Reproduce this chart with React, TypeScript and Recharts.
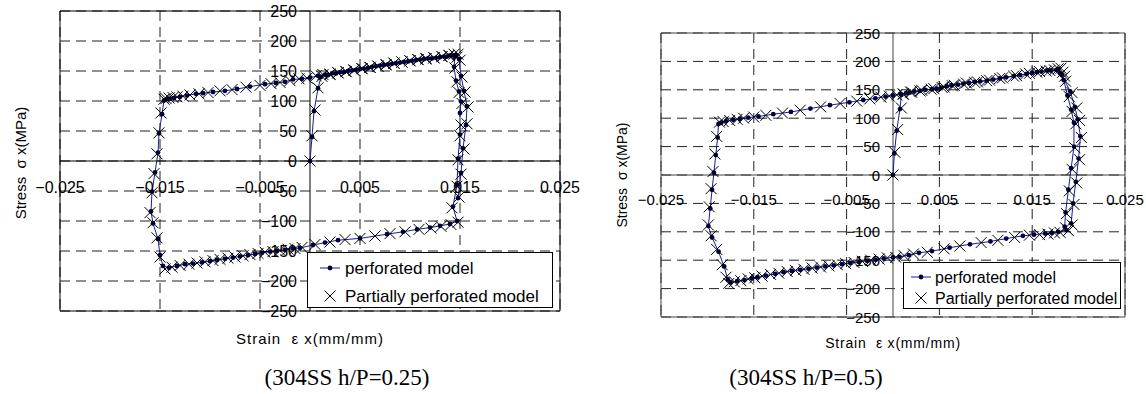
import { ScatterChart, Scatter, XAxis, YAxis, CartesianGrid, ReferenceLine, ReferenceArea, Legend } from 'recharts';

// tick values shared by both panels
const strainTicks = [-0.025, -0.015, -0.005, 0.005, 0.015, 0.025];
const stressTicks = [-250, -200, -150, -100, -50, 0, 50, 100, 150, 200, 250];
const seriesNames = ['perforated model', 'Partially perforated model'];
const captions = ['(304SS h/P=0.25)', '(304SS h/P=0.5)'];
const xTitle = 'Strain\u00a0\u00a0ε x(mm/mm)';
const yTitle = 'Stress\u00a0\u00a0σ x(MPa)';

// [strain, stress] pairs, in loading order — h/P = 0.25
const perforated025: [number, number][] = [
  [0, 0], [0.0002, 40], [0.0004, 83], [0.0008, 121], [0.0011, 140],
  [0.0018, 143], [0.0026, 146], [0.0034, 148], [0.0042, 151], [0.005, 153], [0.0058, 155], [0.0066, 158],
  [0.0074, 160], [0.0082, 162], [0.009, 164], [0.0098, 166], [0.0106, 168], [0.0114, 170], [0.0122, 171],
  [0.013, 173], [0.0137, 174], [0.0142, 176], [0.0145, 174],
  [0.0144, 157], [0.0146, 134], [0.0149, 116], [0.0151, 99], [0.015, 80], [0.015, 44], [0.0148, 4],
  [0.0147, -40], [0.0143, -76], [0.0147, -100],
  [0.014, -105], [0.013, -108], [0.012, -111], [0.0107, -114], [0.0093, -118], [0.0077, -122], [0.005, -129],
  [0.0028, -132], [0.0015, -136], [0.0003, -140], [-0.001, -145], [-0.0017, -146], [-0.0025, -148],
  [-0.0033, -150], [-0.004, -151], [-0.0048, -153], [-0.0055, -155], [-0.0062, -157], [-0.007, -159],
  [-0.0077, -161], [-0.0085, -163], [-0.0093, -165], [-0.01, -167], [-0.0108, -169], [-0.0117, -171],
  [-0.0125, -172], [-0.0133, -175], [-0.0141, -178], [-0.0147, -175],
  [-0.015, -157], [-0.0152, -130], [-0.0157, -104], [-0.0159, -84], [-0.0158, -51], [-0.0155, -19],
  [-0.0152, 14], [-0.0151, 46], [-0.0148, 78], [-0.0146, 101],
  [-0.0143, 103], [-0.014, 104], [-0.0136, 105], [-0.013, 107], [-0.0123, 109], [-0.0114, 112], [-0.0107, 113],
  [-0.0097, 115], [-0.0085, 117], [-0.0073, 120], [-0.006, 124], [-0.0045, 128], [-0.0034, 130], [-0.0025, 132],
  [-0.0017, 136], [-0.0008, 137], [0, 139],
  [0.0008, 142], [0.0015, 144], [0.0022, 146], [0.003, 148], [0.0038, 150], [0.0046, 152], [0.0054, 154],
  [0.0062, 157], [0.007, 159], [0.0078, 161], [0.0086, 163], [0.0094, 165], [0.0102, 167], [0.011, 169],
  [0.0118, 171], [0.0126, 172], [0.0134, 174], [0.014, 176], [0.0146, 177], [0.0149, 170],
  [0.0151, 142], [0.0154, 117], [0.0157, 91], [0.0156, 60], [0.0153, 21], [0.0151, -20], [0.0148, -62],
];

const partial025: [number, number][] = [
  [0, 0], [0.0002, 42], [0.0005, 85], [0.0008, 122], [0.0012, 141],
  [0.002, 144], [0.0028, 147], [0.0036, 149], [0.0044, 151], [0.0052, 154], [0.006, 156], [0.0068, 158],
  [0.0076, 160], [0.0084, 163], [0.0092, 165], [0.01, 167], [0.0108, 169], [0.0116, 170], [0.0124, 172],
  [0.0132, 174], [0.0139, 176], [0.0144, 178], [0.0147, 173],
  [0.0145, 155], [0.0147, 132], [0.0149, 114], [0.0152, 96], [0.0151, 60], [0.015, 42], [0.0148, 2],
  [0.0147, -42], [0.0142, -78], [0.0148, -102],
  [0.0141, -106], [0.0131, -109], [0.0121, -112], [0.0109, -114], [0.0095, -118], [0.008, -121], [0.0065, -125],
  [0.005, -129], [0.0035, -131], [0.002, -135], [0.0005, -139], [-0.0008, -144], [-0.0015, -146], [-0.0022, -147],
  [-0.003, -149], [-0.0037, -151], [-0.0045, -152], [-0.0052, -154], [-0.006, -156], [-0.0067, -158],
  [-0.0075, -160], [-0.0082, -162], [-0.009, -164], [-0.0097, -166], [-0.0105, -168], [-0.0113, -170],
  [-0.0121, -172], [-0.013, -174], [-0.0138, -177], [-0.0145, -180],
  [-0.015, -160], [-0.0153, -128], [-0.0157, -103], [-0.016, -86], [-0.0158, -53], [-0.0156, -21],
  [-0.0153, 12], [-0.0151, 47], [-0.0149, 80], [-0.0146, 103],
  [-0.0144, 104], [-0.0141, 105], [-0.0137, 106], [-0.0133, 107], [-0.0127, 108], [-0.012, 110], [-0.0111, 112],
  [-0.0102, 114], [-0.009, 117], [-0.0078, 119], [-0.0064, 123], [-0.005, 126], [-0.0039, 129], [-0.003, 131],
  [-0.002, 134], [-0.0011, 137], [-0.0003, 138],
  [0.0006, 142], [0.0013, 144], [0.002, 145], [0.0028, 147], [0.0036, 149], [0.0044, 152], [0.0052, 154],
  [0.006, 156], [0.0068, 158], [0.0076, 161], [0.0084, 163], [0.0092, 165], [0.01, 167], [0.0108, 169],
  [0.0116, 171], [0.0124, 172], [0.0132, 174], [0.0139, 176], [0.0148, 178], [0.015, 168],
  [0.0152, 140], [0.0155, 115], [0.0158, 90], [0.0157, 62], [0.0154, 20], [0.0151, -22], [0.0149, -60],
];

// h/P = 0.5
const perforated05: [number, number][] = [
  [0, 0], [0.00015, 38], [0.0004, 78], [0.00075, 116], [0.0009, 141],
  [0.0018, 145], [0.0029, 148], [0.0042, 151], [0.0052, 154], [0.0063, 158], [0.0076, 161], [0.0088, 164],
  [0.0101, 166], [0.0115, 170], [0.013, 174], [0.0144, 178], [0.0155, 181], [0.0166, 184], [0.0176, 185], [0.018, 179],
  [0.0184, 167], [0.0188, 140], [0.0192, 115], [0.0195, 92], [0.0195, 50], [0.0192, 12], [0.0189, -26],
  [0.0186, -66], [0.0185, -91], [0.0187, -97],
  [0.0178, -100], [0.0171, -102], [0.0164, -103], [0.0152, -105], [0.014, -107], [0.0122, -112], [0.0105, -117],
  [0.0083, -122], [0.0061, -128], [0.0042, -134], [0.0028, -137], [0.0017, -141], [0.0007, -144], [0, -145],
  [-0.001, -147], [-0.0019, -149], [-0.0028, -151], [-0.0037, -153], [-0.0046, -155], [-0.0055, -157],
  [-0.0064, -159], [-0.0073, -161], [-0.0082, -163], [-0.0091, -165], [-0.01, -167], [-0.0109, -169],
  [-0.0118, -171], [-0.0127, -174], [-0.0137, -177], [-0.0146, -180], [-0.0152, -182], [-0.016, -185],
  [-0.0168, -187], [-0.0175, -189],
  [-0.0178, -184], [-0.0182, -161], [-0.0188, -135], [-0.0195, -110], [-0.0199, -90], [-0.0197, -59],
  [-0.0195, -26], [-0.0193, 4], [-0.0191, 35], [-0.0189, 66], [-0.0188, 90],
  [-0.0185, 92], [-0.018, 95], [-0.0172, 97], [-0.0165, 99], [-0.0156, 101], [-0.0145, 103], [-0.0129, 107],
  [-0.011, 111], [-0.0089, 117], [-0.0068, 123], [-0.0047, 128], [-0.0032, 132], [-0.0019, 135], [-0.0008, 138], [0, 140],
  [0.0008, 143], [0.0014, 144], [0.0023, 147], [0.0035, 150], [0.0047, 152], [0.0058, 156], [0.007, 159],
  [0.0082, 162], [0.0094, 165], [0.0108, 168], [0.0122, 172], [0.0137, 176], [0.015, 180], [0.016, 182],
  [0.017, 184], [0.0178, 186], [0.0182, 176],
  [0.0191, 147], [0.0196, 120], [0.0199, 98], [0.0202, 68], [0.02, 29], [0.0197, -12], [0.0194, -50], [0.0192, -85],
];

const partial05: [number, number][] = [
  [0, 0], [0.0002, 40], [0.0005, 80], [0.0009, 118], [0.0011, 142],
  [0.002, 146], [0.0031, 149], [0.0044, 152], [0.0055, 155], [0.0066, 158], [0.0079, 162], [0.0091, 164],
  [0.0104, 167], [0.0118, 171], [0.0133, 175], [0.0147, 179], [0.0158, 182], [0.0169, 184], [0.0178, 187], [0.0183, 181],
  [0.0186, 165], [0.019, 138], [0.0193, 112], [0.0197, 90], [0.0196, 48], [0.0193, 10], [0.019, -28],
  [0.0187, -68], [0.0186, -93], [0.0189, -98],
  [0.018, -101], [0.0174, -102], [0.0167, -104], [0.0158, -105], [0.0147, -106], [0.0131, -110], [0.0113, -115],
  [0.0095, -119], [0.0072, -125], [0.0055, -130], [0.0037, -136], [0.0022, -139], [0.0012, -142], [0.0003, -145],
  [-0.0006, -146], [-0.0015, -148], [-0.0024, -150], [-0.0033, -152], [-0.0042, -154], [-0.0051, -156],
  [-0.006, -158], [-0.0069, -160], [-0.0078, -162], [-0.0087, -164], [-0.0096, -166], [-0.0105, -168],
  [-0.0114, -170], [-0.0123, -173], [-0.0132, -175], [-0.0141, -178], [-0.0149, -181], [-0.0156, -183],
  [-0.0164, -186], [-0.0171, -188], [-0.0177, -191],
  [-0.018, -180], [-0.0184, -158], [-0.019, -131], [-0.0196, -107], [-0.0199, -88], [-0.0198, -56],
  [-0.0196, -24], [-0.0194, 6], [-0.0192, 37], [-0.019, 68], [-0.0187, 93],
  [-0.0183, 94], [-0.0176, 96], [-0.0168, 98], [-0.0161, 100], [-0.015, 102], [-0.0137, 105], [-0.0119, 109],
  [-0.01, 114], [-0.0078, 120], [-0.0057, 126], [-0.0039, 130], [-0.0025, 134], [-0.0013, 137], [-0.0004, 139],
  [0.0004, 141], [0.0011, 143], [0.0019, 146], [0.0029, 148], [0.0041, 151], [0.0053, 154], [0.0064, 157],
  [0.0076, 160], [0.0088, 163], [0.0101, 166], [0.0115, 170], [0.013, 174], [0.0143, 178], [0.0155, 181],
  [0.0165, 183], [0.0174, 185], [0.0181, 188], [0.0185, 174],
  [0.0193, 145], [0.0198, 118], [0.0201, 96], [0.0203, 66], [0.0201, 27], [0.0198, -14], [0.0195, -52], [0.0193, -88],
];

const toPoints = (rows: [number, number][]) => rows.map(([strain, stress]) => ({ strain, stress }));
const fmtStrain = (v: number) => v.toFixed(3).replace('-', '\u2212');
const fmtStress = (v: number) => String(v).replace('-', '\u2212');

const FONT = '"Liberation Sans", Arial, sans-serif';
const LINE_COLOR = '#1c1c8f';
const DOT_COLOR = '#00004a';

const DotShape = (p: any) => <circle cx={p.cx} cy={p.cy} r={2.4} fill={DOT_COLOR} />;
const CrossShape = (p: any) => {
  const s = 5.5;
  return (
    <path
      d={`M${p.cx - s},${p.cy - s}L${p.cx + s},${p.cy + s}M${p.cx + s},${p.cy - s}L${p.cx - s},${p.cy + s}`}
      stroke="#000"
      strokeWidth={1}
      fill="none"
    />
  );
};

const LegendBox = ({ w, h, fontSize, row1, row2, sampleX, textX }: any) => (
  <div style={{ width: w, height: h, boxSizing: 'border-box', border: '1px solid #000', background: '#fff', position: 'relative', fontFamily: FONT, fontSize, color: '#000' }}>
    <svg width={w} height={h} style={{ position: 'absolute', left: 0, top: 0 }}>
      <line x1={sampleX - 10} x2={sampleX + 10} y1={row1} y2={row1} stroke={LINE_COLOR} strokeWidth={1} />
      <circle cx={sampleX} cy={row1} r={2.4} fill={DOT_COLOR} />
      <path d={`M${sampleX - 5.5},${row2 - 5.5}L${sampleX + 5.5},${row2 + 5.5}M${sampleX + 5.5},${row2 - 5.5}L${sampleX - 5.5},${row2 + 5.5}`} stroke="#000" />
      <text x={textX} y={row1} dominantBaseline="central" fontFamily={FONT} fontSize={fontSize}>{seriesNames[0]}</text>
      <text x={textX} y={row2} dominantBaseline="central" fontFamily={FONT} fontSize={fontSize}>{seriesNames[1]}</text>
    </svg>
  </div>
);

function Panel(props: any) {
  const { left, width, height, plot, perforated, partial, tickFont, frame, legend, xLabel, yLabel, caption } = props;
  const zeroX = plot.x + plot.w / 2;
  const zeroY = plot.y + plot.h / 2;
  // axes are 1px thick strips so that they still render their ticks
  const margin = { left: plot.x - 1, top: plot.y, right: width - plot.x - plot.w, bottom: height - plot.y - plot.h - 1 };
  return (
    <div style={{ position: 'absolute', left, top: 0, width, height }}>
      <ScatterChart width={width} height={height} margin={margin} style={{ overflow: 'visible' }}>
        <CartesianGrid stroke="#222" strokeDasharray="10 6" />
        <XAxis
          type="number"
          dataKey="strain"
          domain={[-0.025, 0.025]}
          ticks={strainTicks}
          interval={0}
          height={1}
          axisLine={false}
          tickLine={false}
          allowDataOverflow
          tick={(t: any) => (
            <text x={t.x} y={zeroY + tickFont.dx} textAnchor="middle" dominantBaseline="central" fontFamily={FONT} fontSize={tickFont.size} fill="#000">
              {fmtStrain(t.payload.value)}
            </text>
          )}
        />
        <YAxis
          type="number"
          dataKey="stress"
          domain={[-250, 250]}
          ticks={stressTicks}
          interval={0}
          width={1}
          axisLine={false}
          tickLine={false}
          allowDataOverflow
          tick={(t: any) => (
            <text x={zeroX - 13} y={t.y} textAnchor="end" dominantBaseline="central" fontFamily={FONT} fontSize={tickFont.size} fill="#000">
              {fmtStress(t.payload.value)}
            </text>
          )}
        />
        <ReferenceArea x1={-0.025} x2={0.025} y1={-250} y2={250} fill="none" fillOpacity={0} stroke={frame} strokeWidth={1} />
        <ReferenceLine x={0} stroke={frame} strokeWidth={1} />
        <ReferenceLine y={0} stroke={frame} strokeWidth={1} />
        <Legend
          layout="horizontal"
          verticalAlign="middle"
          align="center"
          wrapperStyle={{ position: 'absolute', left: legend.x, top: legend.y, width: legend.w, height: legend.h }}
          content={() => <LegendBox {...legend} w={legend.w} h={legend.h} />}
        />
        <Scatter
          name={seriesNames[0]}
          data={toPoints(perforated)}
          line={{ stroke: LINE_COLOR, strokeWidth: 1 }}
          lineType="joint"
          shape={DotShape}
          isAnimationActive={false}
        />
        <Scatter name={seriesNames[1]} data={toPoints(partial)} shape={CrossShape} isAnimationActive={false} />
      </ScatterChart>
      <div style={{ position: 'absolute', left: xLabel.x - 150, width: 300, top: xLabel.y - 10, height: 20, lineHeight: '20px', textAlign: 'center', fontFamily: FONT, fontSize: xLabel.size, letterSpacing: xLabel.ls }}>
        {xTitle}
      </div>
      <div style={{ position: 'absolute', left: yLabel.x - 150, width: 300, top: yLabel.y - 10, height: 20, lineHeight: '20px', textAlign: 'center', fontFamily: FONT, fontSize: yLabel.size, transform: 'rotate(-90deg)' }}>
        {yTitle}
      </div>
      <div style={{ position: 'absolute', left: caption.x - 150, width: 300, top: caption.y - 15, height: 30, lineHeight: '30px', textAlign: 'center', fontFamily: '"Liberation Serif", "Times New Roman", serif', fontSize: caption.size }}>
        {caption.text}
      </div>
    </div>
  );
}

export default function App() {
  return (
    <div style={{ position: 'absolute', left: 0, top: 0, width: 1146, height: 394, background: '#fff', overflow: 'hidden' }}>
      <Panel
        left={0}
        width={600}
        height={394}
        plot={{ x: 60, y: 11, w: 500, h: 300 }}
        perforated={perforated025}
        partial={partial025}
        tickFont={{ size: 16, dx: 26 }}
        frame="#000"
        legend={{ x: 307, y: 252, w: 246, h: 56, fontSize: 17, row1: 15, row2: 43, sampleX: 22, textX: 37 }}
        xLabel={{ x: 310, y: 339, size: 15, ls: 1 }}
        yLabel={{ x: 21, y: 163, size: 15 }}
        caption={{ x: 347, y: 378, size: 23, text: captions[0] }}
      />
      <Panel
        left={590}
        width={556}
        height={394}
        plot={{ x: 71, y: 33, w: 464, h: 284 }}
        perforated={perforated05}
        partial={partial05}
        tickFont={{ size: 15, dx: 24 }}
        frame="#444"
        legend={{ x: 313, y: 262, w: 218, h: 47, fontSize: 16, row1: 14, row2: 35, sampleX: 17, textX: 31 }}
        xLabel={{ x: 303, y: 343, size: 14, ls: 0.8 }}
        yLabel={{ x: 32, y: 175, size: 14 }}
        caption={{ x: 216, y: 378, size: 23, text: captions[1] }}
      />
    </div>
  );
}
